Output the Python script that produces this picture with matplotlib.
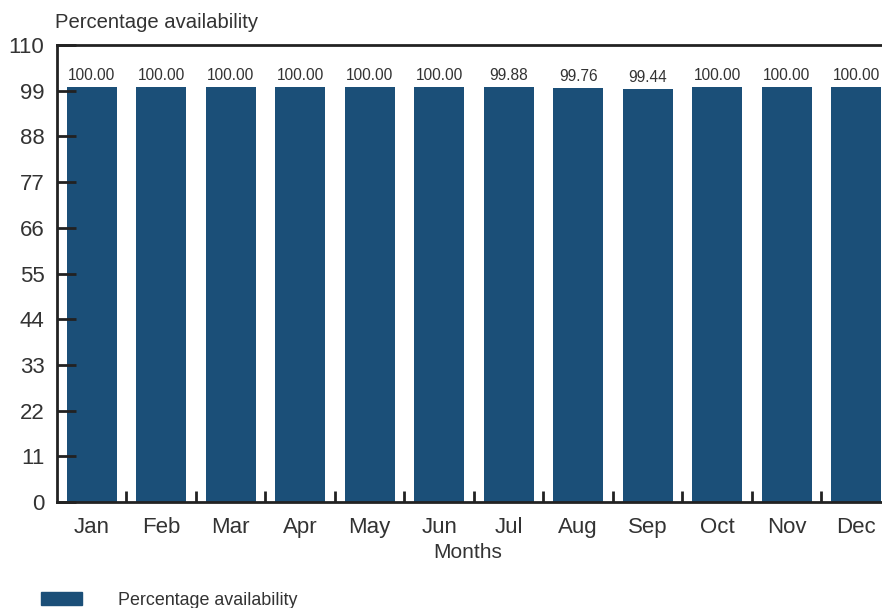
import matplotlib.pyplot as plt
from matplotlib.patches import Patch

meses = ['Jan', 'Feb', 'Mar', 'Apr', 'May', 'Jun', 'Jul', 'Aug', 'Sep', 'Oct', 'Nov', 'Dec']
disponibilidad = [100.00, 100.00, 100.00, 100.00, 100.00, 100.00, 99.88, 99.76, 99.44, 100.00, 100.00, 100.00]
ticks_y = [0, 11, 22, 33, 44, 55, 66, 77, 88, 99, 110]

color_barra = '#1b4f78'
color_texto = '#333333'

plt.rcParams['font.family'] = ['Liberation Sans', 'DejaVu Sans']

fig = plt.figure(figsize=(8.82, 6.08), dpi=100)
ax = fig.add_axes([0.0646, 0.1743, 0.9456, 0.7516])

x = range(len(meses))
barras = ax.bar(x, disponibilidad, width=0.72, color=color_barra)

# etiquetas de valor encima de cada barra
for xi, v in zip(x, disponibilidad):
    ax.text(xi, v + 0.9, f'{v:.2f}', ha='center', va='bottom', fontsize=11.2, color=color_texto)

ax.set_xlim(-0.5, len(meses) - 0.5)
ax.set_ylim(0, 110)
ax.set_yticks(ticks_y)
ax.tick_params(axis='y', direction='in', length=14, width=2, color='#222222',
               labelsize=16, labelcolor=color_texto, pad=9)

# ticks del eje x entre categorías
ax.set_xticks([i + 0.5 for i in range(len(meses) - 1)])
ax.set_xticklabels([])
ax.tick_params(axis='x', direction='in', length=8, width=2, color='#222222')
for xi, m in zip(x, meses):
    ax.text(xi, -3.5, m, ha='center', va='top', fontsize=16, color=color_texto,
            transform=ax.transData)

for lado in ['left', 'bottom', 'top']:
    ax.spines[lado].set_linewidth(2)
    ax.spines[lado].set_color('#222222')
ax.spines['right'].set_visible(False)

fig.text(468 / 882, 1 - 552 / 608, 'Months', ha='center', va='center', fontsize=15, color=color_texto)
fig.text(55 / 882, 1 - 22 / 608, 'Percentage availability', ha='left', va='center', fontsize=14.6, color=color_texto)

fig.legend(handles=[Patch(color=color_barra, label='Percentage availability')],
           loc='lower left', bbox_to_anchor=(0.028, -0.028), frameon=False,
           handlelength=2.3, handleheight=0.75, handletextpad=2.0,
           fontsize=12.9, labelcolor=color_texto)

fig.savefig('out.png', dpi=100)
